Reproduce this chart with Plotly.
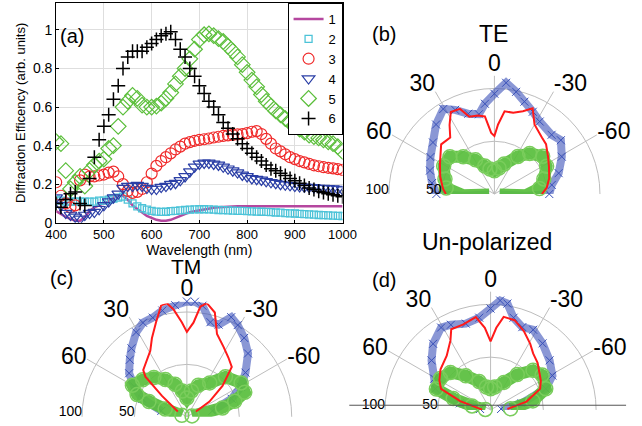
import plotly.graph_objects as go

# ---------------- Panel (a) data ----------------
wavelength = list(range(400, 1001, 10))

s1_line = [0.06, 0.045, 0.03, 0.02, 0.01, 0.01, 0.03, 0.06, 0.08, 0.09, 0.10, 0.11, 0.13, 0.14, 0.14,
           0.12, 0.09, 0.07, 0.05, 0.035, 0.025, 0.015, 0.01, 0.01, 0.015, 0.025, 0.035, 0.045, 0.055,
           0.06, 0.065, 0.07, 0.075, 0.078, 0.08, 0.082, 0.083, 0.084, 0.085, 0.085, 0.085, 0.085,
           0.085, 0.085, 0.085, 0.085, 0.085, 0.085, 0.085, 0.085, 0.085, 0.085, 0.085, 0.085, 0.085,
           0.085, 0.085, 0.085, 0.085, 0.085, 0.085]
s2_square = [0.12, 0.115, 0.11, 0.11, 0.11, 0.11, 0.11, 0.11, 0.11, 0.115, 0.115, 0.12, 0.125, 0.13,
             0.135, 0.12, 0.10, 0.085, 0.075, 0.068, 0.062, 0.058, 0.056, 0.057, 0.06, 0.062, 0.064,
             0.066, 0.068, 0.069, 0.07, 0.07, 0.069, 0.068, 0.066, 0.065, 0.064, 0.063, 0.062, 0.061,
             0.06, 0.059, 0.058, 0.057, 0.056, 0.055, 0.053, 0.052, 0.05, 0.049, 0.048, 0.046, 0.045,
             0.043, 0.042, 0.04, 0.039, 0.038, 0.037, 0.036, 0.035]
s3_circle = [0.21, 0.14, 0.10, 0.08, 0.09, 0.22, 0.25, 0.24, 0.24, 0.245, 0.25, 0.26, 0.265, 0.24, 0.20,
             0.165, 0.155, 0.16, 0.175, 0.21, 0.255, 0.295, 0.32, 0.34, 0.36, 0.38, 0.395, 0.41, 0.418,
             0.425, 0.43, 0.433, 0.437, 0.442, 0.446, 0.45, 0.453, 0.456, 0.458, 0.46, 0.465, 0.472,
             0.475, 0.46, 0.435, 0.41, 0.385, 0.37, 0.355, 0.34, 0.33, 0.32, 0.313, 0.305, 0.298, 0.293,
             0.288, 0.285, 0.282, 0.278, 0.274]
s4_triangle = [0.13, 0.09, 0.05, 0.04, 0.03, 0.02, 0.04, 0.05, 0.055, 0.07, 0.09, 0.11, 0.13, 0.15,
               0.18, 0.19, 0.19, 0.195, 0.19, 0.18, 0.175, 0.175, 0.185, 0.19, 0.20, 0.205, 0.22, 0.24,
               0.265, 0.29, 0.305, 0.31, 0.31, 0.305, 0.30, 0.29, 0.28, 0.27, 0.26, 0.248, 0.24, 0.23,
               0.226, 0.222, 0.215, 0.21, 0.205, 0.20, 0.197, 0.194, 0.19, 0.188, 0.186, 0.185, 0.183,
               0.18, 0.179, 0.178, 0.177, 0.175, 0.172]
s5_diamond = [0.42, 0.41, 0.27, 0.175, 0.21, 0.24, 0.19, 0.27, 0.30, 0.32, 0.33, 0.385, 0.40, 0.50, 0.60,
              0.63, 0.66, 0.645, 0.61, 0.60, 0.60, 0.605, 0.62, 0.645, 0.675, 0.72, 0.76, 0.80, 0.85,
              0.90, 0.95, 0.975, 0.98, 0.97, 0.955, 0.94, 0.915, 0.89, 0.86, 0.82, 0.78, 0.74, 0.705,
              0.665, 0.63, 0.605, 0.58, 0.56, 0.54, 0.52, 0.50, 0.485, 0.47, 0.455, 0.447, 0.44, 0.43,
              0.42, 0.41, 0.395, 0.37]
s6_plus = [0.10, 0.08, 0.12, 0.15, 0.16, 0.10, 0.09, 0.23, 0.34, 0.43, 0.50, 0.56, 0.64, 0.71, 0.80,
           0.86, 0.89, 0.89, 0.89, 0.91, 0.93, 0.95, 0.97, 0.98, 0.99, 0.95, 0.90, 0.86, 0.80, 0.76,
           0.71, 0.67, 0.63, 0.60, 0.56, 0.52, 0.49, 0.46, 0.435, 0.41, 0.385, 0.36, 0.34, 0.32, 0.30,
           0.28, 0.27, 0.257, 0.245, 0.23, 0.218, 0.205, 0.193, 0.18, 0.172, 0.163, 0.157, 0.15, 0.145,
           0.14, 0.135]

x_ticks = [400, 500, 600, 700, 800, 900, 1000]
y_ticks = [0, 0.2, 0.4, 0.6, 0.8, 1]
y_tick_text = ["0", "0.2", "0.4", "0.6", "0.8", "1"]

# ---------------- Polar data (angle in degrees, radius) ----------------
ang_ticks = [-60, -30, 0, 30, 60]
ang_tick_text = ["-60", "-30", "0", "30", "60"]
rad_ticks = [50, 100]
rad_tick_text = ["50", "100"]

# (b) TE
te_blue_theta = [96, 93, 90, 80, 70, 60, 50, 40, 31, 25, 18, 11, 6, 0, -6, -12, -18, -25, -32, -44, -51,
                 -61, -72, -81, -90, -93, -96]
te_blue_r = [5, 30, 55, 60, 65, 70, 76, 86, 94, 88, 80, 77, 86, 95, 106, 99, 92, 86, 81, 78, 81, 73, 64,
             55, 52, 30, 5]
te_red_theta = [90, 84, 72, 61, 47, 38, 33, 28, 22, 18, 12, 7, 3, 0, -3, -7, -13, -19, -24, -30, -40,
                -46, -55, -63, -74, -83, -90]
te_red_r = [46, 49, 54, 59, 69, 68, 78, 88, 87, 77, 76, 74, 58, 55, 66, 79, 79, 83, 89, 76, 70, 68, 62,
            58, 54, 50, 45]
te_green_theta = [96, 92, 83, 73, 61, 50, 40, 29, 19, 10, 0, -10, -18, -32, -41, -52, -62, -73, -83, -92,
                  -96]
te_green_r = [5, 30, 46, 49, 55, 55, 46, 37, 28, 24, 22, 25, 30, 42, 51, 58, 56, 49, 43, 30, 5]

# (c) TM
tm_blue_theta = [77, 68, 60, 53, 45, 39, 31, 25, 19, 13, 6, 0, -4, -8, -14, -19, -24, -29, -36, -44, -53,
                 -61, -68, -77]
tm_blue_r = [25, 46, 58, 69, 77, 84, 94, 99, 100, 104, 107, 110, 110, 107, 93, 93, 104, 100, 93, 84, 70,
             59, 46, 25]
tm_red_theta = [60, 50, 46, 43, 29, 24, 18, 13, 10, 7, 3, 0, -4, -7, -10, -15, -20, -28, -35, -42, -49,
                -56, -60]
tm_red_r = [10, 31, 55, 61, 72, 82, 95, 109, 110, 103, 90, 81, 90, 106, 110, 103, 84, 75, 69, 64, 45, 26,
            10]
tm_green_theta = [74, 70, 68, 66, 60, 50, 40, 30, 20, 10, 0, -10, -20, -34, -44, -58, -67, -72, -76, -80]
tm_green_r = [5, 22, 39, 52, 60, 55, 49, 41, 33, 25, 18, 25, 32, 39, 53, 61, 60, 48, 35, 5]

# (d) Un-polarized
un_blue_theta = [85, 78, 69, 61, 50, 41, 31, 25, 16, 7, 0, -5, -9, -14, -21, -28, -38, -50, -61, -69,
                 -78, -85]
un_blue_r = [10, 30, 56, 61, 73, 83, 91, 89, 85, 88, 96, 104, 102, 90, 84, 86, 80, 73, 67, 56, 30, 10]
un_red_theta = [88, 74, 67, 60, 51, 39, 30, 26, 18, 9, 4, 0, -4, -8, -15, -23, -31, -37, -45, -53, -60,
                -67, -77, -87]
un_red_r = [8, 30, 51, 56, 61, 66, 76, 85, 85, 89, 78, 65, 78, 89, 88, 81, 73, 67, 63, 58, 55, 51, 35, 16]
un_green_theta = [85, 78, 73, 69, 58, 47, 36, 22, 10, 0, -10, -26, -37, -47, -56, -69, -78, -87]
un_green_r = [5, 18, 37, 55, 56, 52, 40, 29, 22, 20, 22, 29, 42, 55, 59, 56, 41, 19]

# ---------------- Styles ----------------
FONT = "Liberation Sans, Arial, sans-serif"
C_MAG = "#b5479f"
C_CYAN = "#4cc3d8"
C_RED = "#f02a2a"
C_BLUE = "#2b3fa6"
C_GREEN = "#5cbf3c"
C_BLACK = "#000000"
P_BLUE = "#3850b8"
P_RED = "#ff1a1a"

fig = go.Figure()

fig.add_trace(go.Scatter(x=wavelength, y=s1_line, mode="lines", name="1",
                         line=dict(color=C_MAG, width=2.5)))
fig.add_trace(go.Scatter(x=wavelength, y=s2_square, mode="markers", name="2",
                         marker=dict(symbol="square-open", size=7, color=C_CYAN, line=dict(width=1.3))))
fig.add_trace(go.Scatter(x=wavelength, y=s3_circle, mode="markers", name="3",
                         marker=dict(symbol="circle-open", size=11, color=C_RED, line=dict(width=1.2))))
fig.add_trace(go.Scatter(x=wavelength, y=s4_triangle, mode="markers", name="4",
                         marker=dict(symbol="triangle-down-open", size=11, color=C_BLUE, line=dict(width=1.2))))
fig.add_trace(go.Scatter(x=wavelength, y=s5_diamond, mode="markers", name="5",
                         marker=dict(symbol="diamond-open", size=12, color=C_GREEN, line=dict(width=1.2))))
fig.add_trace(go.Scatter(x=wavelength, y=s6_plus, mode="markers", name="6",
                         marker=dict(symbol="cross-thin-open", size=10, color=C_BLACK, line=dict(width=1.5))))

def add_polar(sub, bt, br, rt, rr, gt, gr):
    fig.add_trace(go.Scatterpolar(theta=bt, r=br, subplot=sub, mode="lines+markers", showlegend=False,
                                  line=dict(color="rgba(60,82,185,0.6)", width=8),
                                  marker=dict(symbol="x-thin", size=8, color=P_BLUE,
                                              line=dict(width=1, color=P_BLUE))))
    fig.add_trace(go.Scatterpolar(theta=gt, r=gr, subplot=sub, mode="lines+markers", showlegend=False,
                                  line=dict(color="rgba(88,190,60,0.92)", width=12),
                                  marker=dict(symbol="circle-open", size=14, color="#7acd5c",
                                              line=dict(width=1.5))))
    fig.add_trace(go.Scatterpolar(theta=rt, r=rr, subplot=sub, mode="lines", showlegend=False,
                                  line=dict(color=P_RED, width=2)))

add_polar("polar", te_blue_theta, te_blue_r, te_red_theta, te_red_r, te_green_theta, te_green_r)
add_polar("polar2", tm_blue_theta, tm_blue_r, tm_red_theta, tm_red_r, tm_green_theta, tm_green_r)
add_polar("polar3", un_blue_theta, un_blue_r, un_red_theta, un_red_r, un_green_theta, un_green_r)

W, H = 642, 426

def polar_layout(cx, cy, R=123, rmax=112):
    return dict(
        domain=dict(x=[(cx - R) / W, (cx + R) / W], y=[max(0, 1 - cy / H), 1 - (cy - R) / H]),
        sector=[0, 180],
        bgcolor="rgba(0,0,0,0)",
        angularaxis=dict(rotation=90, direction="counterclockwise", tickmode="array",
                         tickvals=ang_ticks, ticktext=ang_tick_text, showline=False,
                         gridcolor="#bdbdbd", gridwidth=1, ticks="",
                         tickfont=dict(size=23, color="black", family=FONT)),
        radialaxis=dict(range=[0, rmax], tickmode="array", tickvals=rad_ticks, ticktext=rad_tick_text,
                        showline=False, angle=180, side="clockwise", ticks="", tickangle=180,
                        gridcolor="#bdbdbd", gridwidth=1,
                        tickfont=dict(size=14, color="black", family=FONT)),
    )

def label(text, x, y, size):
    return dict(text=text, x=x / W, y=1 - y / H, xref="paper", yref="paper", showarrow=False,
                xanchor="center", yanchor="middle", font=dict(size=size, color="black"))

fig.update_layout(
    width=W, height=H,
    margin=dict(l=0, r=0, t=0, b=0),
    paper_bgcolor="white", plot_bgcolor="white",
    font=dict(family=FONT, color="black"),
    xaxis=dict(domain=[47 / W, 345 / W], range=[400, 1000], tickvals=x_ticks,
               showgrid=True, gridcolor="#dedede", zeroline=False,
               showline=True, linecolor="black", linewidth=1, mirror=True,
               ticks="inside", ticklen=3, tickcolor="black",
               tickfont=dict(size=13), title=dict(text="Wavelength (nm)", font=dict(size=14), standoff=0)),
    yaxis=dict(domain=[1 - 227 / H, 1 - 3 / H], range=[0, 1.14], tickvals=y_ticks, ticktext=y_tick_text,
               showgrid=True, gridcolor="#dedede", zeroline=False,
               showline=True, linecolor="black", linewidth=1, mirror=True,
               ticks="inside", ticklen=3, tickcolor="black",
               tickfont=dict(size=14),
               title=dict(text="Diffraction Efficency (arb. units)", font=dict(size=13), standoff=4)),
    legend=dict(x=345 / W, xanchor="right", y=1 - 3 / H, yanchor="top", bgcolor="white",
                bordercolor="black", borderwidth=1, font=dict(size=13), itemwidth=30,
                tracegroupgap=0),
    polar=polar_layout(503, 199),
    polar2=polar_layout(183, 426, R=120, rmax=110),
    polar3=polar_layout(499, 419),
    shapes=[dict(type="line", xref="paper", yref="paper", x0=352 / W, x1=640 / W,
                 y0=1 - 413 / H, y1=1 - 413 / H, line=dict(color="#555555", width=1))],
    annotations=[
        label("(a)", 63, 37, 20),
        label("(b)", 388, 35, 20),
        label("TE", 502, 35, 23),
        label("(c)", 53, 283, 20),
        label("TM", 182, 272, 21),
        label("Un-polarized", 495, 247, 23),
        label("(d)", 388, 285, 20),
    ],
)

fig.write_html("out.html")
